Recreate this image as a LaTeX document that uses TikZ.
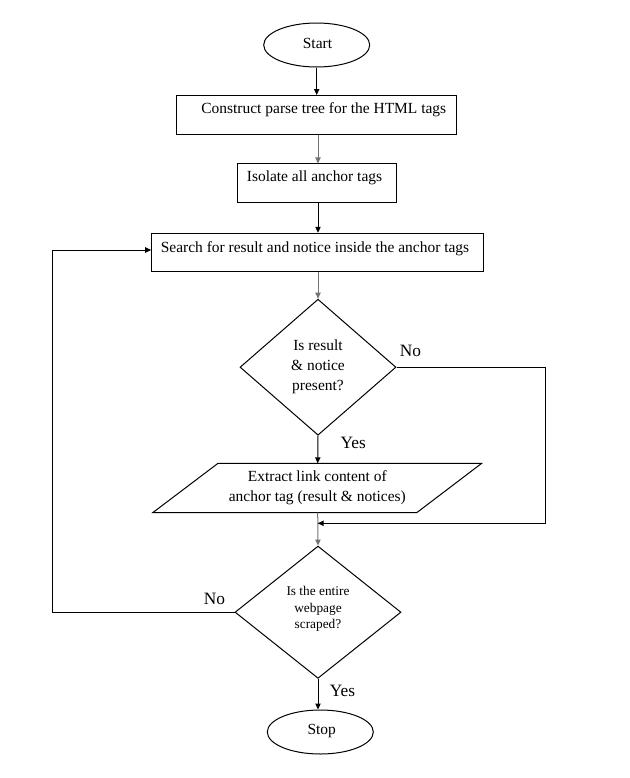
\documentclass[tikz,border=0pt]{standalone}
\usepackage{fontspec}
\setmainfont{Liberation Serif}
\usetikzlibrary{shapes.geometric,arrows.meta}
\begin{document}
\begin{tikzpicture}[x=0.75pt,y=-0.75pt,line width=0.75pt,
  arr/.style={-{Triangle[length=4.5pt,width=4pt]}},
  garr/.style={arr,draw=black!55},
  box/.style={draw,rectangle,inner sep=0pt},
  dia/.style={draw,diamond,inner sep=0pt},
  ell/.style={draw,ellipse,inner sep=0pt,minimum width=79.5pt,minimum height=33pt},
  txt/.style={inner sep=0pt,font=\fontsize{11.6}{14.8}\selectfont},
  smalltxt/.style={inner sep=0pt,font=\fontsize{10}{12.5}\selectfont},
  lbl/.style={inner sep=0pt,font=\fontsize{13}{15}\selectfont}]
\useasboundingbox (0,0) rectangle (629,778);
% shapes
\node[ell] (start) at (316.7,45) {};
\node[txt] (startt) at (317.5,43.3) {Start};
\node[box,minimum width=210pt,minimum height=29.25pt] (b1) at (316.7,115) {};
\node[txt] (b1t) at (323.8,109.3) {Construct parse tree for the HTML tags};
\node[box,minimum width=119.25pt,minimum height=29pt] (b2) at (317.2,183.3) {};
\node[txt] (b2t) at (314.5,178.3) {Isolate all anchor tags};
\node[box,minimum width=249pt,minimum height=28.8pt] (b3) at (317.2,252.5) {};
\node[txt] (b3t) at (315,248.3) {Search for result and notice inside the anchor tags};
\node[dia,minimum width=117pt,minimum height=102pt] (d1) at (318,367.2) {};
\node[txt,align=center] (d1t) at (318,367) {Is result\\ \& notice\\ present?};
\coordinate (pA) at (218,463.3);
\coordinate (pB) at (481.7,463.3);
\coordinate (pC) at (416.7,512.7);
\coordinate (pD) at (152.7,512.7);
\draw (pA) -- (pB) -- (pC) -- (pD) -- cycle;
\node[txt,align=center] (pt) at (317.3,487.5) {Extract link content of\\ anchor tag (result \& notices)};
\coordinate (ptop) at (317.7,463.3);
\coordinate (pbot) at (317.7,512.7);
\node[dia,minimum width=124.5pt,minimum height=99.2pt] (d2) at (318,612.2) {};
\node[smalltxt,align=center] (d2t) at (318,609) {Is the entire\\ webpage\\ scraped?};
\node[ell] (stop) at (320.3,732) {};
\node[txt] (stopt) at (321.7,731) {Stop};
% labels
\node[lbl] (no1) at (410.5,351) {No};
\node[lbl] (yes1) at (353.3,443.3) {Yes};
\node[lbl] (no2) at (214.5,599) {No};
\node[lbl] (yes2) at (342.5,690.8) {Yes};
% connectors
\draw[arr] (start.south) -- (start.south |- b1.north);
\draw[garr] (b1.south -| d1) -- (b2.north -| d1);
\draw[arr] (b2.south -| d1) -- (b3.north -| d1);
\draw[garr] (b3.south -| d1) -- (d1.north);
\draw[arr] (d1.south) -- (ptop);
\draw[garr] (pbot) -- (d2.north);
\draw[arr] (d2.south) -- (d2.south |- stop.north);
\coordinate (R) at (545,523.3);
\coordinate (M) at (317.7,523.3);
\draw[arr] (d1.east) -| (R) -- (M);
\coordinate (L) at (52.7,612.2);
\coordinate (Lt) at (52.7,250);
\coordinate (B3in) at (151.2,250);
\draw[arr] (d2.west) -- (L) -- (Lt) -- (B3in);
\end{tikzpicture}
\end{document}
